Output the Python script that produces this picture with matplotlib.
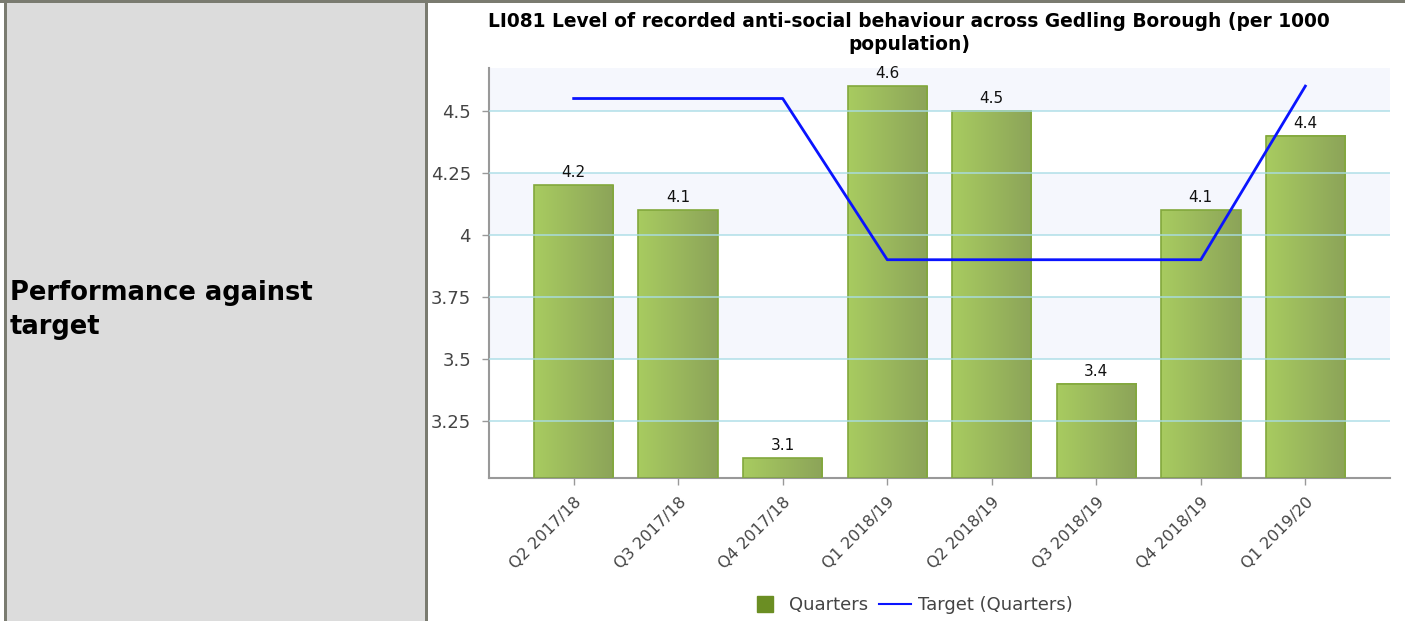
import numpy as np
import matplotlib
matplotlib.use("Agg")
import matplotlib.pyplot as plt
from matplotlib.patches import Rectangle
from matplotlib.lines import Line2D
from matplotlib.colors import LinearSegmentedColormap

quarters = ["Q2 2017/18", "Q3 2017/18", "Q4 2017/18", "Q1 2018/19",
            "Q2 2018/19", "Q3 2018/19", "Q4 2018/19", "Q1 2019/20"]
actual = [4.2, 4.1, 3.1, 4.6, 4.5, 3.4, 4.1, 4.4]
target = [4.55, 4.55, 4.55, 3.9, 3.9, 3.9, 3.9, 4.6]
yticks = [3.25, 3.5, 3.75, 4, 4.25, 4.5]
ytick_labels = ["3.25", "3.5", "3.75", "4", "4.25", "4.5"]

W, H = 1405, 621
fig = plt.figure(figsize=(W / 100, H / 100), dpi=100)
fig.patch.set_facecolor("white")

# table cell on the left
border = "#7a7b70"
fig.patches.append(Rectangle((4 / W, 0), 424 / W, 1, transform=fig.transFigure,
                             facecolor="#dcdcdc", edgecolor="none", zorder=0))
fig.patches.append(Rectangle((4 / W, 0), 3 / W, 1, transform=fig.transFigure,
                             facecolor=border, edgecolor="none", zorder=1))
fig.patches.append(Rectangle((425 / W, 0), 3 / W, 1, transform=fig.transFigure,
                             facecolor=border, edgecolor="none", zorder=1))
fig.patches.append(Rectangle((0, 1 - 3 / H), 1, 3 / H, transform=fig.transFigure,
                             facecolor=border, edgecolor="none", zorder=1))
fig.text(10 / W, 1 - 310 / H, "Performance against\ntarget", fontsize=18.5,
         fontweight="bold", family="DejaVu Sans", ha="left", va="center",
         linespacing=1.4)

ax = fig.add_axes([489 / W, 143 / H, 901 / W, 410 / H])
ymin, ymax = 3.02, 4.673
ax.set_xlim(-0.81, len(quarters) - 1 + 0.81)
ax.set_ylim(ymin, ymax)

# alternating bands
band_edges = [ymin] + yticks + [ymax]
for i in range(len(band_edges) - 1):
    if i in (2, 4, 6):
        ax.axhspan(band_edges[i], band_edges[i + 1], color="#f5f7fd", zorder=0, lw=0)

# gradient bars
grad = np.linspace(0, 1, 64).reshape(1, -1)
cmap = LinearSegmentedColormap.from_list("g", ["#a8cb60", "#8ca459"])
bw = 0.76
x = np.arange(len(quarters))
for xi, v in zip(x, actual):
    ax.imshow(grad, cmap=cmap, aspect="auto", extent=(xi - bw / 2, xi + bw / 2, ymin, v),
              zorder=2, interpolation="bilinear")
ax.bar(x, np.array(actual) - ymin, bottom=ymin, width=bw, facecolor="none",
       edgecolor="#82a83c", linewidth=1.2, zorder=3)
for xi, v in zip(x, actual):
    ax.text(xi, v + 0.02, f"{v:g}", ha="center", va="bottom", fontsize=11, color="#111111",
            zorder=6)

for t in yticks:
    ax.axhline(t, color="#a9dde6", lw=1.2, alpha=0.85, zorder=4)

ax.plot(x, target, color="#0a14ff", lw=2, zorder=5)

ax.set_xticks(x)
ax.set_xticklabels(quarters, rotation=45, ha="right", va="top", rotation_mode="anchor",
                   fontsize=11.5, color="#444444")
ax.set_yticks(yticks)
ax.set_yticklabels(ytick_labels, fontsize=13, color="#444444")
ax.tick_params(axis="both", color="#999999", length=5, width=1)
ax.tick_params(axis="y", pad=8)
ax.tick_params(axis="x", pad=7)
for s in ("top", "right"):
    ax.spines[s].set_visible(False)
for s in ("left", "bottom"):
    ax.spines[s].set_color("#999999")
    ax.spines[s].set_linewidth(1.5)

fig.text(909 / W, 1 - 12 / H,
         "LI081 Level of recorded anti-social behaviour across Gedling Borough (per 1000\npopulation)",
         ha="center", va="top", fontsize=13.4, fontweight="bold", linespacing=1.25)

handles = [Line2D([], [], marker="s", ls="none", color="#6b8e23", markersize=12),
           Line2D([], [], color="#0a14ff", lw=1.5)]
fig.legend(handles, ["Quarters", "Target (Quarters)"], loc="center",
           bbox_to_anchor=(911 / W, 1 - 605 / H), ncol=2, frameon=False,
           fontsize=13, labelcolor="#444444", handlelength=1.8, columnspacing=0.6,
           handletextpad=0.4)

fig.savefig("out.png", dpi=100)
